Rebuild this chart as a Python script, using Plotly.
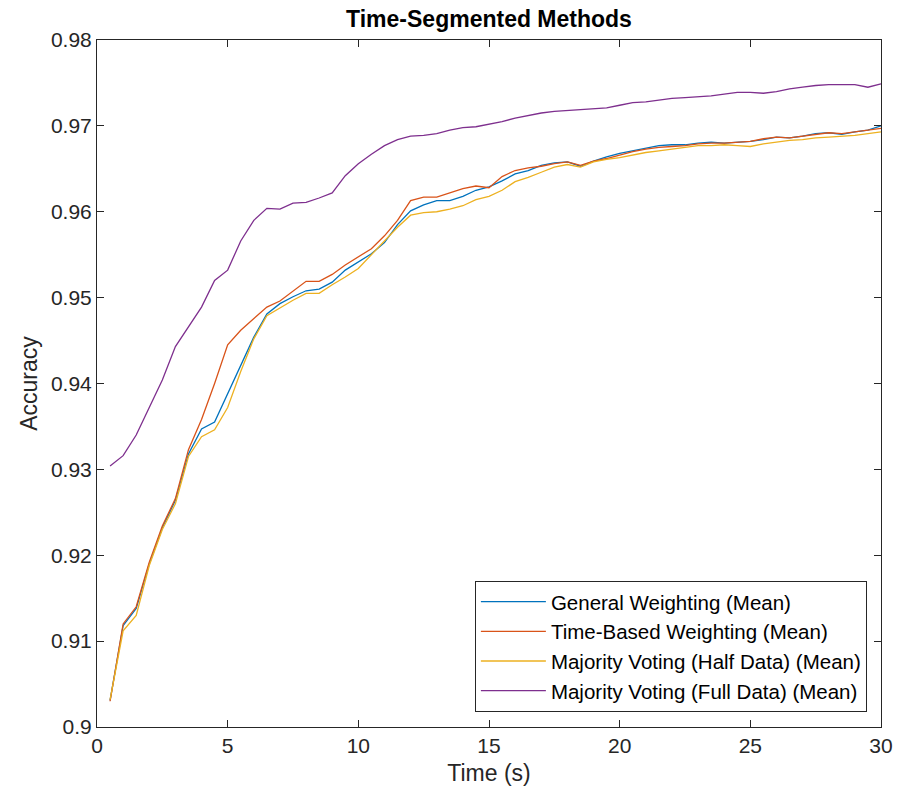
import plotly.graph_objects as go

time_s = [0.5 * i for i in range(1, 61)]

general_weighting = [
    0.9031, 0.9118, 0.9138, 0.9190, 0.9232, 0.9264, 0.9318, 0.9347, 0.9355, 0.9388,
    0.9421, 0.9454, 0.9481, 0.9493, 0.9501, 0.9508, 0.9510, 0.9518, 0.9532, 0.9541,
    0.9551, 0.9564, 0.9585, 0.9601, 0.9608, 0.9613, 0.9613, 0.9618, 0.9625, 0.9629,
    0.9636, 0.9644, 0.9648, 0.9654, 0.9657, 0.9658, 0.9653, 0.9659, 0.9664, 0.9668,
    0.9671, 0.9674, 0.9677, 0.9678, 0.9678, 0.9680, 0.9681, 0.9680, 0.9681, 0.9682,
    0.9684, 0.9687, 0.9686, 0.9688, 0.9691, 0.9692, 0.9690, 0.9693, 0.9695, 0.9700,
]

time_based_weighting = [
    0.9030, 0.9120, 0.9140, 0.9192, 0.9234, 0.9266, 0.9323, 0.9358, 0.9400, 0.9445,
    0.9462, 0.9476, 0.9489, 0.9496, 0.9508, 0.9519, 0.9519, 0.9527, 0.9538, 0.9547,
    0.9557, 0.9572, 0.9590, 0.9613, 0.9617, 0.9617, 0.9622, 0.9627, 0.9630, 0.9628,
    0.9641, 0.9648, 0.9651, 0.9653, 0.9656, 0.9658, 0.9654, 0.9659, 0.9662, 0.9666,
    0.9670, 0.9673, 0.9675, 0.9676, 0.9677, 0.9679, 0.9680, 0.9680, 0.9681, 0.9682,
    0.9685, 0.9687, 0.9686, 0.9688, 0.9690, 0.9692, 0.9691, 0.9693, 0.9695, 0.9697,
]

majority_half = [
    0.9032, 0.9112, 0.9130, 0.9188, 0.9230, 0.9260, 0.9315, 0.9338, 0.9346, 0.9372,
    0.9414, 0.9452, 0.9479, 0.9488, 0.9497, 0.9505, 0.9505, 0.9515, 0.9524, 0.9534,
    0.9550, 0.9566, 0.9582, 0.9596, 0.9599, 0.9600, 0.9603, 0.9607, 0.9614, 0.9618,
    0.9625, 0.9635, 0.9640, 0.9646, 0.9652, 0.9655, 0.9652, 0.9658, 0.9661, 0.9663,
    0.9666, 0.9669, 0.9671, 0.9673, 0.9675, 0.9677, 0.9677, 0.9678, 0.9677, 0.9676,
    0.9679, 0.9681, 0.9683, 0.9684, 0.9686, 0.9687, 0.9688, 0.9689, 0.9691, 0.9693,
]

majority_full = [
    0.9304, 0.9316, 0.9340, 0.9372, 0.9404, 0.9443, 0.9466, 0.9489, 0.9520, 0.9532,
    0.9566, 0.9590, 0.9604, 0.9603, 0.9610, 0.9611, 0.9616, 0.9622, 0.9642, 0.9656,
    0.9667, 0.9677, 0.9684, 0.9688, 0.9689, 0.9691, 0.9695, 0.9698, 0.9699, 0.9702,
    0.9705, 0.9709, 0.9712, 0.9715, 0.9717, 0.9718, 0.9719, 0.9720, 0.9721, 0.9724,
    0.9727, 0.9728, 0.9730, 0.9732, 0.9733, 0.9734, 0.9735, 0.9737, 0.9739, 0.9739,
    0.9738, 0.9740, 0.9743, 0.9745, 0.9747, 0.9748, 0.9748, 0.9748, 0.9745, 0.9749,
]

series_names = [
    "General Weighting (Mean)",
    "Time-Based Weighting (Mean)",
    "Majority Voting (Half Data) (Mean)",
    "Majority Voting (Full Data) (Mean)",
]
series_colors = ["#0072BD", "#D95319", "#EDB120", "#7E2F8E"]
series_values = [general_weighting, time_based_weighting, majority_half, majority_full]

x_ticks = [0, 5, 10, 15, 20, 25, 30]
y_ticks = [0.90, 0.91, 0.92, 0.93, 0.94, 0.95, 0.96, 0.97, 0.98]
y_tick_labels = ["0.9", "0.91", "0.92", "0.93", "0.94", "0.95", "0.96", "0.97", "0.98"]

fig = go.Figure()
for name, color, vals in zip(series_names, series_colors, series_values):
    fig.add_trace(go.Scatter(
        x=time_s, y=vals, mode="lines", name=name,
        line=dict(color=color, width=1.3),
    ))

axis_color = "#262626"
font_family = "Liberation Sans, Arial, sans-serif"

fig.update_layout(
    width=898, height=803,
    margin=dict(l=97, r=17, t=40, b=76, autoexpand=False),
    paper_bgcolor="white", plot_bgcolor="white",
    font=dict(family=font_family, color=axis_color, size=20),
    title=dict(text="<b>Time-Segmented Methods</b>", x=0.5, xref="paper",
               xanchor="center", y=1 - 19 / 803, yanchor="middle",
               font=dict(size=23, color="black", family=font_family)),
    showlegend=True,
    legend=dict(
        x=0.982, y=0.022, xanchor="right", yanchor="bottom",
        bgcolor="white", bordercolor=axis_color, borderwidth=1,
        font=dict(size=20.5, color="black", family=font_family),
        tracegroupgap=0, itemwidth=65,
    ),
)

fig.update_xaxes(
    range=[0, 30], tickvals=x_ticks, ticktext=[str(v) for v in x_ticks],
    showgrid=False, zeroline=False, automargin=False,
    showline=True, linecolor=axis_color, linewidth=1, mirror="ticks",
    ticks="inside", ticklen=7, tickcolor=axis_color, tickwidth=1,
    tickfont=dict(size=21, color=axis_color),
    title=dict(text="Time (s)", font=dict(size=23, color=axis_color), standoff=8),
)
fig.update_yaxes(
    range=[0.9, 0.98], tickvals=y_ticks, ticktext=y_tick_labels,
    showgrid=False, zeroline=False, automargin=False,
    showline=True, linecolor=axis_color, linewidth=1, mirror="ticks",
    ticks="inside", ticklen=7, tickcolor=axis_color, tickwidth=1,
    tickfont=dict(size=21, color=axis_color),
    title=dict(text="Accuracy", font=dict(size=23, color=axis_color), standoff=6),
)

fig.write_html("out.html")
